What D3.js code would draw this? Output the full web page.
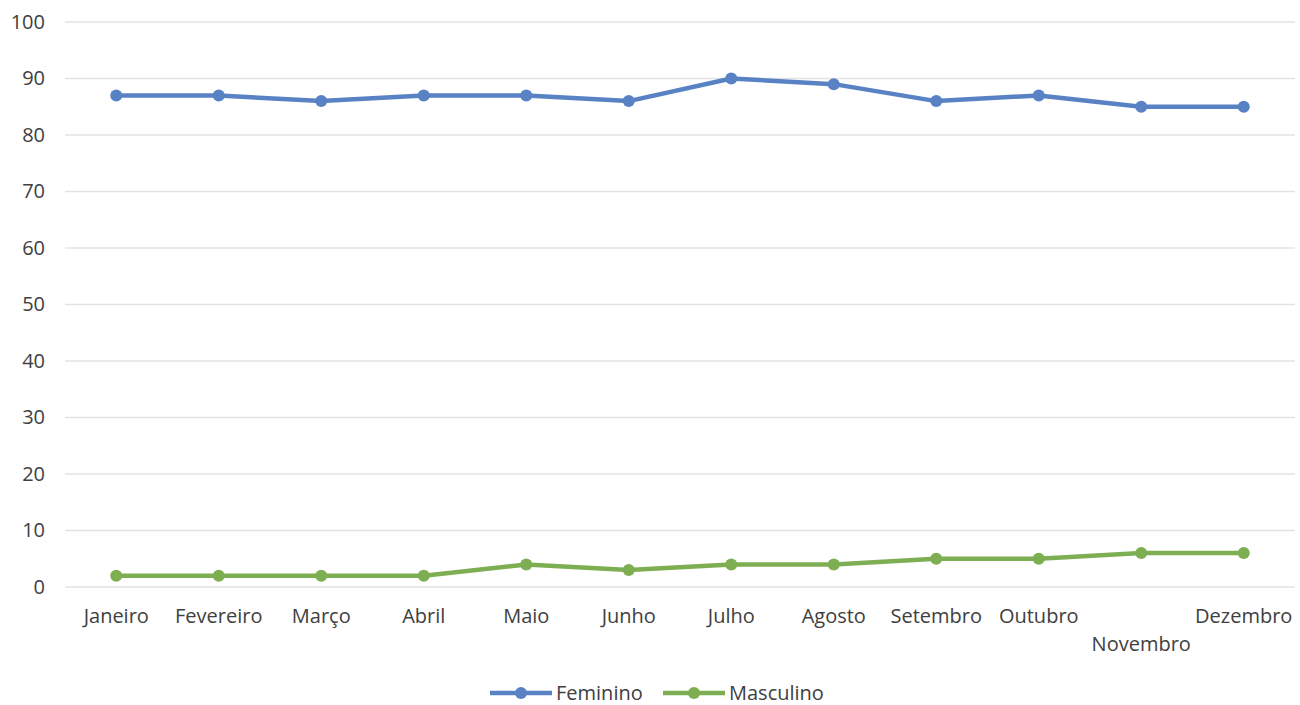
<!DOCTYPE html>
<html>
<head>
<meta charset="utf-8">
<script src="https://cdn.jsdelivr.net/npm/d3@7"></script>
<style>
  html, body { margin: 0; padding: 0; background: #fff; }
  svg { display: block; font-family: "Open Sans", "Noto Sans", sans-serif; }
</style>
</head>
<body>
<svg id="chart" width="1300" height="705"></svg>
<script>
const months = ["Janeiro", "Fevereiro", "Março", "Abril", "Maio", "Junho",
                "Julho", "Agosto", "Setembro", "Outubro", "Novembro", "Dezembro"];
const feminino = [87, 87, 86, 87, 87, 86, 90, 89, 86, 87, 85, 85];
const masculino = [2, 2, 2, 2, 4, 3, 4, 4, 5, 5, 6, 6];
const yTicks = [0, 10, 20, 30, 40, 50, 60, 70, 80, 90, 100];

const series = [
  { name: "Feminino", values: feminino, color: "#5882c3" },
  { name: "Masculino", values: masculino, color: "#7dae52" }
];

const svg = d3.select("#chart");
const plotLeft = 65, plotRight = 1295, plotTop = 22, plotBottom = 587;
const fontSize = 20;

const x = d3.scaleBand().domain(months).range([plotLeft, plotRight]);
const y = d3.scaleLinear().domain([0, 100]).range([plotBottom, plotTop]);
const cx = m => x(m) + x.bandwidth() / 2;

// horizontal gridlines
svg.append("g").selectAll("line").data(yTicks).join("line")
  .attr("x1", plotLeft).attr("x2", plotRight)
  .attr("y1", d => y(d)).attr("y2", d => y(d))
  .attr("stroke", "#e3e3e3").attr("stroke-width", 1.3);

// y-axis labels
const yAxis = svg.append("g").attr("transform", `translate(${plotLeft - 20},0)`)
  .call(d3.axisLeft(y).tickValues(yTicks).tickSize(0).tickPadding(0));
yAxis.select(".domain").remove();
yAxis.selectAll("text").attr("font-size", fontSize).attr("fill", "#404040")
  .attr("font-family", "Open Sans, sans-serif");

// x-axis labels (Novembro sits on a second row)
const xAxis = svg.append("g").attr("transform", `translate(0,${plotBottom})`)
  .call(d3.axisBottom(x).tickSize(0).tickPadding(0));
xAxis.select(".domain").remove();
xAxis.selectAll("text").attr("font-size", fontSize).attr("fill", "#404040")
  .attr("font-family", "Open Sans, sans-serif")
  .attr("dy", d => d === "Novembro" ? 64 : 36)
  .attr("y", 0);

const line = d3.line().x((d, i) => cx(months[i])).y(d => y(d));

series.forEach(s => {
  svg.append("path").datum(s.values)
    .attr("d", line).attr("fill", "none")
    .attr("stroke", s.color).attr("stroke-width", 4.5)
    .attr("stroke-linejoin", "round");
  svg.append("g").selectAll("circle").data(s.values).join("circle")
    .attr("cx", (d, i) => cx(months[i])).attr("cy", d => y(d))
    .attr("r", 6).attr("fill", s.color);
});

// legend
const legend = svg.append("g").attr("transform", "translate(490,693)");
const legendX = [0, 173];
series.forEach((s, i) => {
  const g = legend.append("g").attr("transform", `translate(${legendX[i]},0)`);
  g.append("line").attr("x1", 0).attr("x2", 62).attr("y1", 0).attr("y2", 0)
    .attr("stroke", s.color).attr("stroke-width", 4.5);
  g.append("circle").attr("cx", 31).attr("cy", 0).attr("r", 6).attr("fill", s.color);
  g.append("text").attr("x", 66).attr("y", 0).attr("dy", "0.35em")
    .attr("font-size", fontSize).attr("fill", "#404040").text(s.name);
});
</script>
</body>
</html>
